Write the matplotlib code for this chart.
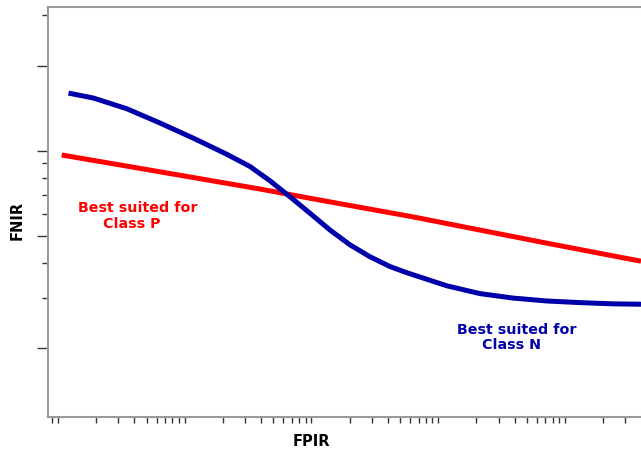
import numpy as np
import matplotlib.pyplot as plt

# curve values (FPIR on log scale, FNIR in relative units)
fpir_n = [1.21e-5, 1.90e-5, 3.48e-5, 6.38e-5, 1.17e-4, 2.14e-4, 3.27e-4, 4.71e-4,
          6.77e-4, 9.73e-4, 1.40e-3, 2.01e-3, 2.89e-3, 4.16e-3, 5.64e-3, 1.17e-2,
          2.13e-2, 3.91e-2, 7.18e-2, 0.131, 0.240, 0.398]
fnir_n = [0.790, 0.778, 0.752, 0.717, 0.680, 0.641, 0.611, 0.576,
          0.537, 0.497, 0.456, 0.420, 0.391, 0.367, 0.352, 0.320,
          0.301, 0.290, 0.283, 0.279, 0.276, 0.275]

fpir_p = [1.07e-5, 3.48e-5, 1.17e-4, 3.93e-4, 1.17e-3, 6.35e-3,
          2.13e-2, 7.18e-2, 0.240, 0.398]
fnir_p = [0.639, 0.612, 0.584, 0.556, 0.529, 0.488,
          0.456, 0.424, 0.393, 0.380]

ytick_major = [0.856, 0.649, 0.441, 0.168]
ytick_minor = [0.980, 0.620, 0.583, 0.541, 0.495, 0.376, 0.290]

label_p = 'Best suited for\n     Class P'
label_n = 'Best suited for\n     Class N'

fig = plt.figure(figsize=(6.41, 4.54), dpi=100)
ax = fig.add_axes([48/641, 37/454, 593/641, 410/454])

ax.plot(fpir_p, fnir_p, color='#ff0000', lw=3.6,
        solid_capstyle='butt', solid_joinstyle='round')
ax.plot(fpir_n, fnir_n, color='#0000aa', lw=3.6,
        solid_capstyle='butt', solid_joinstyle='round')

ax.set_xscale('log')
ax.set_xlim(10**-5.079, 10**-0.40)
ax.set_ylim(0, 1)

ax.xaxis.set_major_locator(plt.LogLocator(base=10))
ax.xaxis.set_minor_locator(plt.LogLocator(base=10, subs=np.arange(2, 10)))
ax.xaxis.set_major_formatter(plt.NullFormatter())
ax.xaxis.set_minor_formatter(plt.NullFormatter())
ax.tick_params(axis='x', which='both', direction='out', length=4, width=1, color='#333333')

ax.set_yticks(ytick_major)
ax.set_yticks(ytick_minor, minor=True)
ax.set_yticklabels([])
ax.tick_params(axis='y', which='major', direction='out', length=8, width=1, color='#333333')
ax.tick_params(axis='y', which='minor', direction='out', length=4, width=1, color='#333333')

for side in ['left', 'bottom', 'top']:
    ax.spines[side].set_color('#999999')
    ax.spines[side].set_linewidth(1.5)
ax.spines['right'].set_visible(False)

ax.text(0.0506, 0.527, label_p, transform=ax.transAxes, color='#ff0000',
        fontsize=10.3, fontweight='bold', va='top', ha='left', linespacing=1.15)
ax.text(0.690, 0.230, label_n, transform=ax.transAxes, color='#0000aa',
        fontsize=10.3, fontweight='bold', va='top', ha='left', linespacing=1.15)

fig.text(17/641, 1 - 220/454, 'FNIR', rotation=90, fontsize=10.5, fontweight='bold',
         ha='center', va='center')
fig.text(311/641, 1 - 441/454, 'FPIR', fontsize=10.5, fontweight='bold',
         ha='center', va='center')

fig.savefig('out.png', dpi=100)
